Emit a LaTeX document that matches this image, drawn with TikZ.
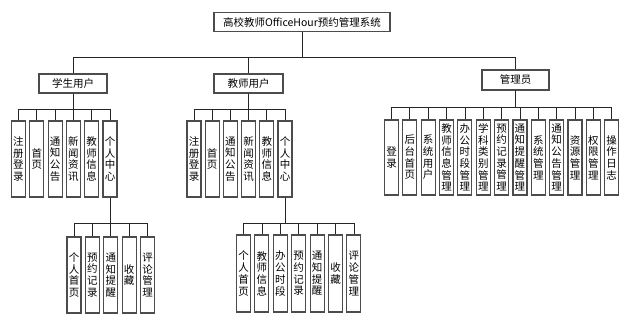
\documentclass[tikz,border=0pt]{standalone}
\usepackage{fontspec}
\newfontfamily\cjk{Noto Sans CJK SC}
\usepackage{tikz}
\usetikzlibrary{calc}
\tikzset{
  topbox/.style={draw=black!70, line width=1.1pt, fill=white, inner sep=0pt,
    minimum height=19pt, font=\cjk\fontsize{10.5}{12}\selectfont},
  leafbox/.style={draw=black!70, line width=1.1pt, fill=white, inner sep=0pt,
    minimum width=14pt, text width=14pt, align=center,
    font=\cjk\fontsize{10.5}{11.7}\selectfont},
  treeln/.style={line width=0.8pt, black!85},
}

\begin{document}
\begin{tikzpicture}[x=1pt, y=-1pt]
    \useasboundingbox (0,0) rectangle (628,322);
    % Root and the three user roles
    \node[topbox, minimum width=176pt] (root) at (302,22) {高校教师OfficeHour预约管理系统};
    \node[topbox, minimum width=68pt] (stu) at (73,83.5) {学生用户};
    \node[topbox, minimum width=69pt] (tea) at (248.5,83.5) {教师用户};
    \node[topbox, minimum width=67pt, minimum height=20pt] (adm) at (515.5,80) {管理员};
    \coordinate (rbus) at (0,57);
    \foreach \r in {stu,tea,adm}
      \draw[treeln] (root.south) |- (\r.north |- rbus) -- (\r.north);
    % Student functions
    \coordinate (sbus) at (0,109);
    \foreach \txt [count=\i] in {{注\\册\\登\\录},{首\\页},{通\\知\\公\\告},{新\\闻\\资\\讯},{教\\师\\信\\息},{个\\人\\中\\心}}{
      \node[leafbox, minimum height=76pt] (s\i) at ({18.5+18.3*(\i-1)},159) {\txt};
      \draw[treeln] (stu.south) |- (s\i.north |- sbus) -- (s\i.north);
    }
    % Teacher functions
    \coordinate (tbus) at (0,109);
    \foreach \txt [count=\i] in {{注\\册\\登\\录},{首\\页},{通\\知\\公\\告},{新\\闻\\资\\讯},{教\\师\\信\\息},{个\\人\\中\\心}}{
      \node[leafbox, minimum height=76pt] (t\i) at ({194+18.2*(\i-1)},159) {\txt};
      \draw[treeln] (tea.south) |- (t\i.north |- tbus) -- (t\i.north);
    }
    % Admin functions
    \coordinate (abus) at (0,107);
    \foreach \txt [count=\i] in {{登\\录},{后\\台\\首\\页},{系\\统\\用\\户},{教\\师\\信\\息\\管\\理},
      {办\\公\\时\\段\\管\\理},{学\\科\\类\\别\\管\\理},{预\\约\\记\\录\\管\\理},{通\\知\\提\\醒\\管\\理},
      {系\\统\\管\\理},{通\\知\\公\\告\\管\\理},{资\\源\\管\\理},{权\\限\\管\\理},{操\\作\\日\\志}}{
      \node[leafbox, minimum height=75pt] (a\i) at ({391.5+18.35*(\i-1)},157.5) {\txt};
      \draw[treeln] (adm.south) |- (a\i.north |- abus) -- (a\i.north);
    }
    % Student personal centre
    \coordinate (spbus) at (0,223);
    \foreach \txt [count=\i] in {{个\\人\\首\\页},{预\\约\\记\\录},{通\\知\\提\\醒},{收\\藏},{评\\论\\管\\理}}{
      \node[leafbox, minimum height=76pt] (sp\i) at ({74+18.4*(\i-1)},275) {\txt};
      \draw[treeln] (s6.south) |- (sp\i.north |- spbus) -- (sp\i.north);
    }
    % Teacher personal centre
    \coordinate (tpbus) at (0,223);
    \foreach \txt [count=\i] in {{个\\人\\首\\页},{教\\师\\信\\息},{办\\公\\时\\段},{预\\约\\记\\录},{通\\知\\提\\醒},{收\\藏},{评\\论\\管\\理}}{
      \node[leafbox, minimum height=77pt] (tp\i) at ({243.5+18.4*(\i-1)},273.5) {\txt};
      \draw[treeln] (t6.south) |- (tp\i.north |- tpbus) -- (tp\i.north);
    }
  \end{tikzpicture}
\end{document}
